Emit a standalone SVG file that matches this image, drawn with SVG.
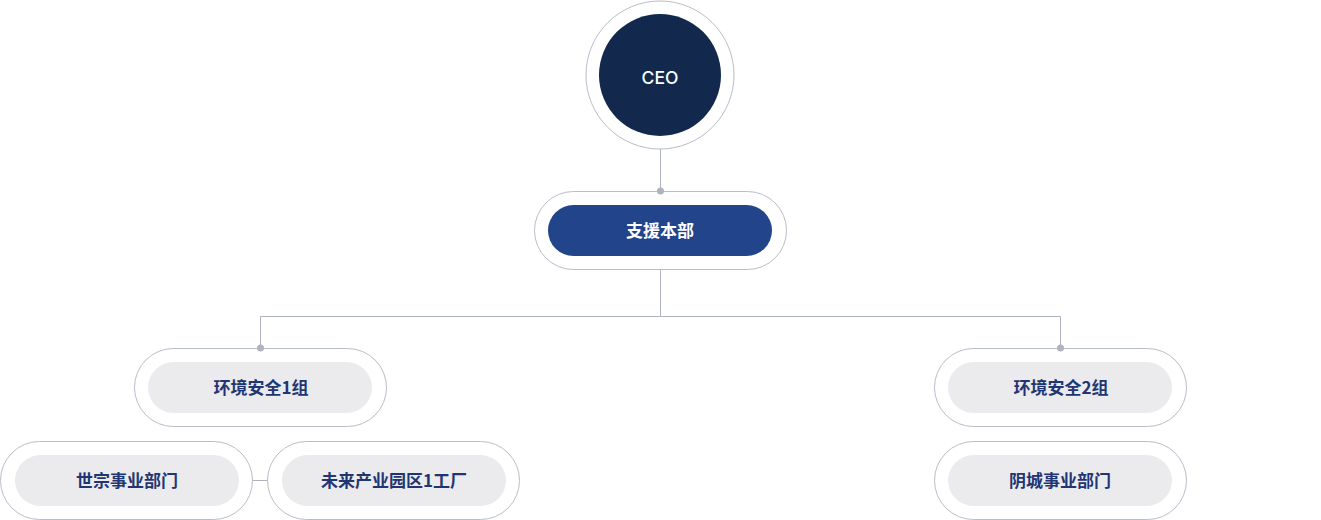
<svg xmlns="http://www.w3.org/2000/svg" width="1321" height="520" viewBox="0 0 1321 520">
<style>
.outer{fill:#fff;stroke:#b9bdc8;stroke-width:1}
.inner{fill:#ebebee}
.lbl{font-family:"Noto Sans CJK SC","Noto Sans",sans-serif;font-weight:700;font-size:17px;fill:#1f3673;text-anchor:middle}
.wl{font-family:"Noto Sans CJK SC","Noto Sans",sans-serif;font-weight:700;font-size:17px;fill:#fff;text-anchor:middle}
.ln{fill:none;stroke:#aeb3bf;stroke-width:1}
.dot{fill:#aeb3bf}
</style>
<g id="ceo">
<circle class="outer" cx="660" cy="75" r="74"/>
<circle cx="660" cy="75" r="61" fill="#12294d"/>
<text x="660" y="84" font-family="Inter,'Noto Sans',sans-serif" font-weight="500" font-size="17.5" fill="#fff" text-anchor="middle">CEO</text>
</g>
<g id="support">
<rect class="outer" x="534.5" y="191.5" width="252" height="78" rx="39"/>
<rect x="548" y="205" width="224" height="51" rx="25.5" fill="#22448a"/>
<text class="wl" x="660" y="236.5">支援本部</text>
</g>
<g id="env1">
<rect class="outer" x="134.5" y="348.5" width="252" height="78" rx="39"/>
<rect class="inner" x="148" y="362" width="224" height="51" rx="25.5"/>
<text class="lbl" x="261" y="393.5">环境安全1组</text>
</g>
<g id="sejong">
<rect class="outer" x="0.5" y="441.5" width="252" height="78" rx="39"/>
<rect class="inner" x="15" y="455" width="224" height="51" rx="25.5"/>
<text class="lbl" x="127" y="486.5">世宗事业部门</text>
</g>
<g id="mirae">
<rect class="outer" x="267.5" y="441.5" width="252" height="78" rx="39"/>
<rect class="inner" x="282" y="455" width="224" height="51" rx="25.5"/>
<text class="lbl" x="394" y="486.5">未来产业园区1工厂</text>
</g>
<g id="env2">
<rect class="outer" x="934.5" y="348.5" width="252" height="78" rx="39"/>
<rect class="inner" x="948" y="362" width="224" height="51" rx="25.5"/>
<text class="lbl" x="1061" y="393.5">环境安全2组</text>
</g>
<g id="eumseong">
<rect class="outer" x="934.5" y="441.5" width="252" height="78" rx="39"/>
<rect class="inner" x="948" y="455" width="224" height="51" rx="25.5"/>
<text class="lbl" x="1060" y="486.5">阴城事业部门</text>
</g>
<g id="connectors">
<path class="ln" d="M660.5 149V191"/>
<path class="ln" d="M660.5 269.5V316.5H260.5V348"/>
<path class="ln" d="M660.5 316.5H1060.5V348"/>
<path class="ln" d="M252.5 480.5H267.5"/>
<circle class="dot" cx="660.5" cy="191" r="3.5"/>
<circle class="dot" cx="260.5" cy="348" r="3.5"/>
<circle class="dot" cx="1060.5" cy="348" r="3.5"/>
</g>
</svg>
